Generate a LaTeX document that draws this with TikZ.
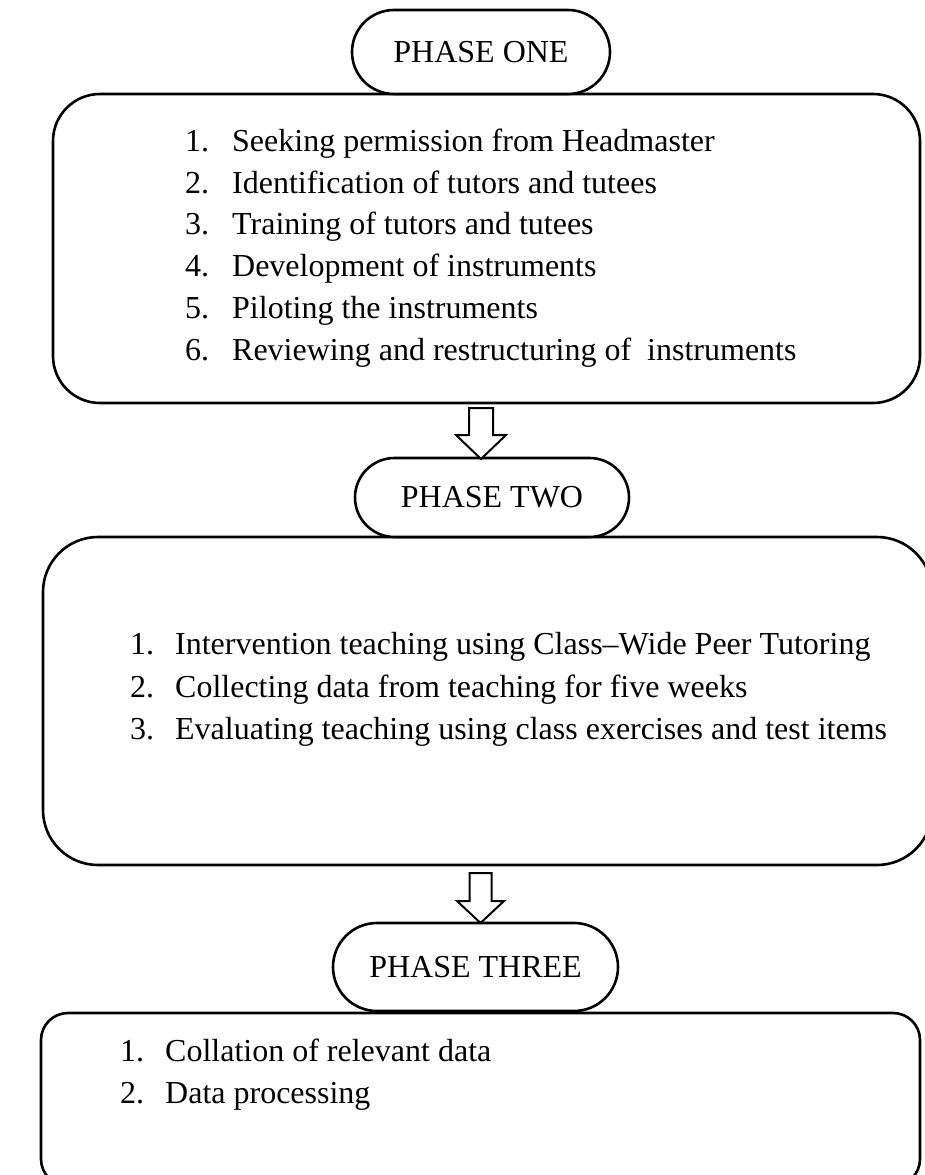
\documentclass[tikz,border=0pt]{standalone}
\usepackage{fontspec}
\setmainfont{Liberation Serif}
\usetikzlibrary{calc}
\tikzset{
  frame/.style={draw=black, line width=2.6pt, inner sep=0pt},
  pill/.style={draw=black, line width=2.6pt, fill=white, inner sep=0pt,
    font=\fontsize{32}{42}\selectfont},
  item/.style={anchor=base west, inner sep=0pt, font=\fontsize{32}{42}\selectfont},
  blockarrow/.style={draw=black, line width=2pt, fill=white, line join=miter},
}
\newcommand{\itm}[3]{\makebox[#1][l]{#2}#3}
\begin{document}
\begin{tikzpicture}[x=1pt, y=-1pt]
\useasboundingbox (0,0) rectangle (925,1175);

% boxes
\node[frame, rounded corners=47pt, minimum width=867pt, minimum height=309pt] (box1) at (486.5,248.5) {};
\node[frame, rounded corners=55pt, minimum width=889pt, minimum height=328pt] (box2) at (487.5,701) {};
\node[frame, rounded corners=27pt, minimum width=879pt, minimum height=173pt] (box3) at (480.5,1099.5) {};

% pills
\node[pill, rounded corners=42pt, minimum width=258pt, minimum height=84pt] (pill1) at (481,52) {PHASE ONE};
\node[pill, rounded corners=39.5pt, minimum width=274pt, minimum height=79pt] (pill2) at (492,497.5) {PHASE TWO};
\node[pill, rounded corners=44pt, minimum width=285pt, minimum height=88pt] (pill3) at (475.5,967) {PHASE THREE};

% box 1 items
\node[item] (a1) at (185,151) {\itm{47pt}{1.}{Seeking permission from Headmaster}};
\node[item] (a2) at (185,193) {\itm{47pt}{2.}{Identification of tutors and tutees}};
\node[item] (a3) at (185,234) {\itm{47pt}{3.}{Training of tutors and tutees}};
\node[item] (a4) at (185,276) {\itm{47pt}{4.}{Development of instruments}};
\node[item] (a5) at (185,318) {\itm{47pt}{5.}{Piloting the instruments}};
\node[item] (a6) at (185,360) {\itm{47pt}{6.}{Reviewing and restructuring of~ instruments}};

% box 2 items
\node[item] (b1) at (130,654) {\itm{45pt}{1.}{Intervention teaching using Class--Wide Peer Tutoring}};
\node[item] (b2) at (130,697) {\itm{45pt}{2.}{Collecting data from teaching for five weeks}};
\node[item] (b3) at (130,739) {\itm{45pt}{3.}{Evaluating teaching using class exercises and test items}};

% box 3 items
\node[item] (c1) at (120,1061) {\itm{45pt}{1.}{Collation of relevant data}};
\node[item] (c2) at (120,1103) {\itm{45pt}{2.}{Data processing}};

% block arrows
\coordinate (tip1) at (481,459);
\coordinate (tip2) at (480.5,923);
\draw[blockarrow] (tip1) -- ++(-25,-24) -- ++(13,0) -- ++(0,-27) -- ++(24,0) -- ++(0,27) -- ++(13,0) -- cycle;
\draw[blockarrow] (tip2) -- ++(-23.5,-22) -- ++(12.5,0) -- ++(0,-28) -- ++(22,0) -- ++(0,28) -- ++(12.5,0) -- cycle;
\end{tikzpicture}
\end{document}
